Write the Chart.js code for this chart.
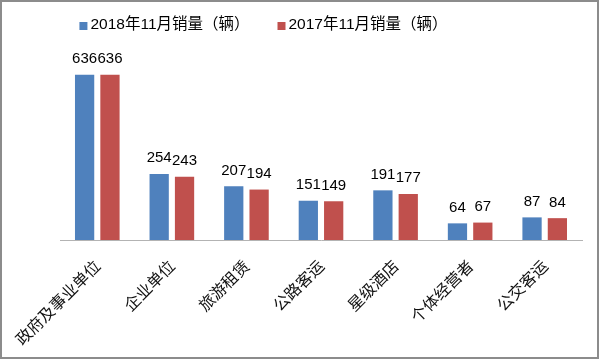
<!DOCTYPE html>
<html><head><meta charset="utf-8">
<script src="https://cdn.jsdelivr.net/npm/chart.js@4/dist/chart.umd.min.js"></script>
<style>html,body{margin:0;padding:0;background:#fff;}#wrap{width:600px;height:359px;position:relative;}</style>
</head><body><div id="wrap"><canvas id="c" width="600" height="359"></canvas></div>
<script>
const categories = ['政府及事业单位','企业单位','旅游租赁','公路客运','星级酒店','个体经营者','公交客运'];
const sales2018 = [636,254,207,151,191,64,87];
const sales2017 = [636,243,194,149,177,67,84];
const seriesNames = ['2018年11月销量（辆）','2017年11月销量（辆）'];
const seriesColors = ['#4f81bd','#c0504d'];

const LABEL_FONT = '15px "Liberation Sans", "Noto Sans CJK SC", sans-serif';
const LEGEND_FONT = '15.5px "Liberation Sans", "Noto Sans CJK SC", sans-serif';

const framePlugin = {
  id: 'frame',
  afterDraw(chart) {
    const ctx = chart.ctx;
    ctx.save();
    ctx.strokeStyle = '#8c8c8c';
    ctx.lineWidth = 2;
    ctx.strokeRect(1, 1, chart.width - 3, chart.height - 2);
    ctx.restore();
  }
};

const legendPlugin = {
  id: 'customLegend',
  afterDraw(chart) {
    const ctx = chart.ctx;
    ctx.save();
    ctx.font = LEGEND_FONT;
    const box = 8, gap = 3, spacing = 28;
    const widths = seriesNames.map(n => box + gap + ctx.measureText(n).width);
    const total = widths.reduce((a, b) => a + b, 0) + spacing * (widths.length - 1);
    let x = 263.5 - total / 2;
    const yText = 24.5, yBox = 26;
    seriesNames.forEach((n, i) => {
      ctx.fillStyle = seriesColors[i];
      ctx.fillRect(x, yBox - box / 2, box, box);
      ctx.fillStyle = '#000';
      ctx.textBaseline = 'middle';
      ctx.textAlign = 'left';
      ctx.fillText(n, x + box + gap, yText);
      x += widths[i] + spacing;
    });
    ctx.restore();
  }
};

const valueLabelPlugin = {
  id: 'valueLabels',
  afterDatasetsDraw(chart) {
    const ctx = chart.ctx;
    ctx.save();
    ctx.font = LABEL_FONT;
    ctx.fillStyle = '#000';
    ctx.textAlign = 'center';
    ctx.textBaseline = 'alphabetic';
    chart.data.datasets.forEach((ds, di) => {
      const meta = chart.getDatasetMeta(di);
      meta.data.forEach((bar, i) => {
        ctx.fillText(String(ds.data[i]), bar.x, bar.y - 11.5);
      });
    });
    ctx.restore();
  }
};

new Chart(document.getElementById('c'), {
  type: 'bar',
  data: {
    labels: categories,
    datasets: [
      { label: seriesNames[0], data: sales2018, backgroundColor: seriesColors[0] },
      { label: seriesNames[1], data: sales2017, backgroundColor: seriesColors[1] }
    ]
  },
  options: {
    responsive: false,
    animation: false,
    devicePixelRatio: 1,
    layout: { padding: { left: 60, right: 18, top: 45, bottom: 0 } },
    datasets: { bar: { categoryPercentage: 0.68, barPercentage: 0.76 } },
    plugins: { legend: { display: false }, tooltip: { enabled: false } },
    scales: {
      y: { display: false, min: 0, max: 750 },
      x: {
        grid: { display: false },
        border: { display: true, color: '#b3b3b3', width: 1 },
        ticks: {
          autoSkip: false, minRotation: 45, maxRotation: 45, padding: 8,
          color: '#111',
          font: { family: '"Noto Sans CJK SC", sans-serif', size: 16 }
        },
        afterFit(scale) { scale.height = 119; }
      }
    }
  },
  plugins: [framePlugin, legendPlugin, valueLabelPlugin]
});
</script></body></html>
